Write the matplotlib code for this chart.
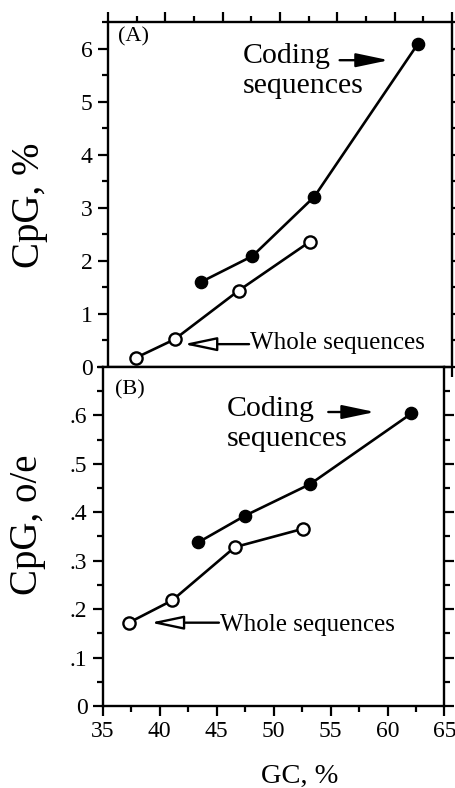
import matplotlib
matplotlib.use("Agg")
import matplotlib.pyplot as plt
from matplotlib.ticker import MultipleLocator, FixedLocator

plt.rcParams['font.family'] = ['Liberation Serif', 'DejaVu Serif']

# GC content (%) and CpG values, panel A: CpG %, panel B: CpG observed/expected
gc_coding_a = [43.1, 47.6, 53.0, 62.0]
cpg_coding_a = [1.60, 2.09, 3.21, 6.08]
gc_whole_a = [37.4, 40.8, 46.4, 52.6]
cpg_whole_a = [0.17, 0.52, 1.44, 2.36]

gc_coding_b = [43.4, 47.5, 53.2, 62.1]
cpg_coding_b = [0.338, 0.393, 0.458, 0.604]
gc_whole_b = [37.3, 41.1, 46.6, 52.6]
oe_whole_b = [0.172, 0.218, 0.328, 0.366]

xticks = [35, 40, 45, 50, 55, 60, 65]
yticks_a = [0, 1, 2, 3, 4, 5, 6]
yticks_b = [0, 0.1, 0.2, 0.3, 0.4, 0.5, 0.6]
ylabels_b = ['0', '.1', '.2', '.3', '.4', '.5', '.6']

fig = plt.figure(figsize=(4.55, 7.88), dpi=100)
ax1 = fig.add_axes([0.2374, 0.5343, 0.756, 0.4378])
ax2 = fig.add_axes([0.2257, 0.1041, 0.7512, 0.4302])

lw = 1.9
ms = 8.8


def style_axes(ax, top):
    for s in ax.spines.values():
        s.set_linewidth(1.7)
    ax.set_xlim(35, 65)
    ax.xaxis.set_major_locator(FixedLocator(xticks))
    ax.xaxis.set_minor_locator(MultipleLocator(2.5))
    ax.tick_params(which='both', direction='out', width=1.6,
                   left=True, right=True, bottom=True, top=top,
                   labelsize=17, pad=4)
    ax.tick_params(which='major', length=7)
    ax.tick_params(which='minor', length=4.5)


style_axes(ax1, True)
style_axes(ax2, False)

arrow_closed = dict(arrowstyle='-|>,head_length=2.0,head_width=0.42',
                    color='black', lw=1.7, shrinkA=0, shrinkB=0)
arrow_open = dict(arrowstyle='-|>,head_length=2.0,head_width=0.42',
                  fc='white', ec='black', lw=1.7, shrinkA=0, shrinkB=0)

# panel A
ax1.plot(gc_coding_a, cpg_coding_a, '-o', color='black', lw=lw, ms=ms,
         mfc='black', mec='black', clip_on=False, zorder=3)
ax1.plot(gc_whole_a, cpg_whole_a, '-o', color='black', lw=lw, ms=ms,
         mfc='white', mec='black', mew=1.7, clip_on=False, zorder=3)
ax1.set_ylim(0, 6.5)
ax1.yaxis.set_major_locator(FixedLocator(yticks_a))
ax1.yaxis.set_minor_locator(MultipleLocator(0.5))
ax1.tick_params(axis='x', labelbottom=False)
ax1.text(0.029, 0.957, '(A)', transform=ax1.transAxes, fontsize=16,
         ha='left', va='center')
ax1.text(46.75, 5.86, 'Coding', fontsize=21.5, ha='left', va='center')
ax1.text(46.75, 5.29, 'sequences', fontsize=21.5, ha='left', va='center')
ax1.annotate('', xy=(59.5, 5.78), xytext=(55.2, 5.78), arrowprops=arrow_closed)
ax1.text(47.4, 0.45, 'Whole sequences', fontsize=18, ha='left', va='center')
ax1.annotate('', xy=(41.6, 0.43), xytext=(47.3, 0.43), arrowprops=arrow_open)

# panel B
ax2.plot(gc_coding_b, cpg_coding_b, '-o', color='black', lw=lw, ms=ms,
         mfc='black', mec='black', clip_on=False, zorder=3)
ax2.plot(gc_whole_b, oe_whole_b, '-o', color='black', lw=lw, ms=ms,
         mfc='white', mec='black', mew=1.7, clip_on=False, zorder=3)
ax2.set_ylim(0, 0.7)
ax2.yaxis.set_major_locator(FixedLocator(yticks_b))
ax2.set_yticklabels(ylabels_b)
ax2.yaxis.set_minor_locator(MultipleLocator(0.05))
ax2.text(0.036, 0.932, '(B)', transform=ax2.transAxes, fontsize=16,
         ha='left', va='center')
ax2.text(45.9, 0.613, 'Coding', fontsize=21.5, ha='left', va='center')
ax2.text(45.9, 0.551, 'sequences', fontsize=21.5, ha='left', va='center')
ax2.annotate('', xy=(58.9, 0.607), xytext=(54.8, 0.607), arrowprops=arrow_closed)
ax2.text(45.3, 0.167, 'Whole sequences', fontsize=18, ha='left', va='center')
ax2.annotate('', xy=(39.2, 0.172), xytext=(45.2, 0.172), arrowprops=arrow_open)

# axis titles
fig.text(30 / 455, 1 - 205 / 788, 'CpG, %', fontsize=28, rotation=90,
         ha='center', va='center')
fig.text(28 / 455, 1 - 525 / 788, 'CpG, o/e', fontsize=28, rotation=90,
         ha='center', va='center')
fig.text(300 / 455, 1 - 776 / 788, 'GC, %', fontsize=20.5, ha='center', va='center')

fig.savefig('out.png', dpi=100)
